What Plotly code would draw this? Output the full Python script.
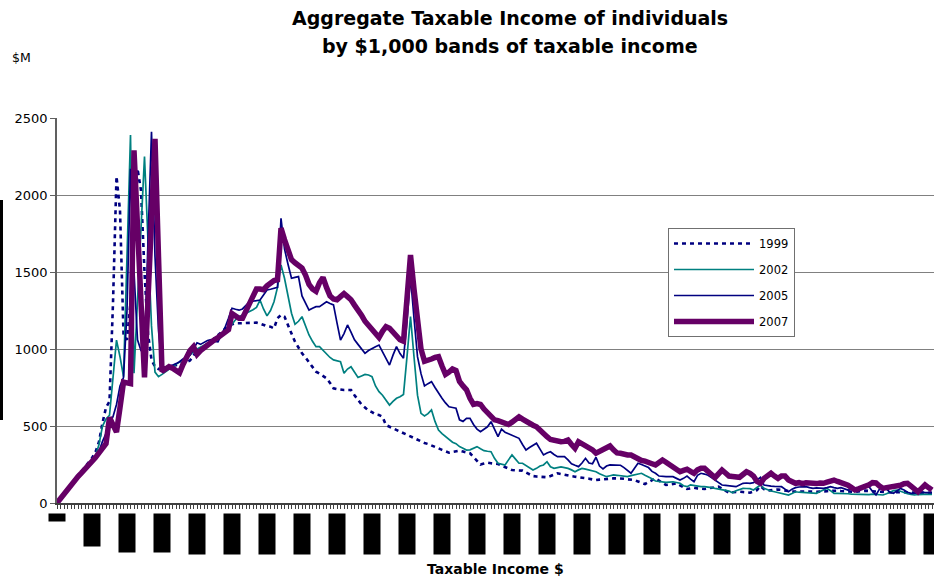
import plotly.graph_objects as go

# Income bands in $1,000 steps (0 .. 250 thousand)
bands = list(range(0, 251))

income_1999 = [
    0, 30, 62, 95, 125, 155, 180, 205, 232, 262,
    292, 330, 398, 520, 620, 660, 1300, 2120, 1900, 1100,
    1060, 1300, 1750, 2170, 2030, 1500, 1100, 930, 885, 870,
    875, 880, 885, 890, 895, 905, 910, 915, 925, 960,
    990, 1000, 1015, 1030, 1050, 1070, 1090, 1110, 1130, 1150,
    1160, 1167, 1167, 1167, 1168, 1169, 1170, 1171, 1165, 1155,
    1148, 1145, 1134, 1200, 1221, 1210, 1160, 1100, 1047, 1010,
    972, 945, 914, 885, 853, 840, 825, 810, 780, 745,
    740, 736, 734, 734, 734, 700, 669, 640, 620, 600,
    590, 575, 571, 560, 506, 495, 484, 474, 463, 452,
    442, 431, 420, 409, 400, 390, 383, 375, 365, 355,
    345, 336, 327, 332, 337, 340, 334, 328, 323, 298,
    272, 250, 256, 262, 258, 255, 253, 243, 233, 223,
    214, 212, 211, 210, 198, 187, 175, 172, 170, 168,
    167, 175, 185, 193, 188, 182, 178, 174, 171, 168,
    166, 164, 158, 153, 149, 152, 155, 158, 160, 160,
    160, 160, 157, 154, 151, 149, 140, 132, 123, 136,
    150, 160, 145, 130, 117, 120, 124, 128, 115, 102,
    91, 95, 99, 95, 92, 91, 95, 99, 103, 106,
    92, 78, 67, 70, 72, 73, 71, 69, 67, 75,
    84, 110, 90, 80, 84, 88, 88, 85, 80, 77,
    75, 73, 74, 75, 76, 75, 74, 73, 73, 73,
    76, 80, 82, 80, 78, 76, 74, 73, 72, 75,
    78, 80, 78, 76, 74, 72, 70, 70, 69, 68,
    70, 72, 70, 68, 66, 65, 66, 67, 68, 67,
    66,
]

income_2002 = [
    0, 30, 60, 92, 122, 152, 175, 198, 222, 246,
    272, 305, 380, 500, 545, 570, 800, 1058, 950, 820,
    1600, 2390, 842, 1300, 1800, 2249, 1700, 1150, 850, 820,
    835, 853, 870, 885, 900, 917, 933, 945, 960, 985,
    1000, 1010, 1020, 1035, 1050, 1060, 1075, 1090, 1110, 1130,
    1160, 1190, 1210, 1220, 1232, 1245, 1255, 1270, 1318, 1260,
    1215, 1250, 1307, 1400, 1545, 1459, 1350, 1232, 1160, 1180,
    1210, 1150, 1091, 1050, 1015, 1015, 990, 965, 945, 929,
    922, 917, 842, 870, 885, 850, 815, 825, 835, 831,
    820, 760, 723, 700, 670, 636, 660, 680, 690, 705,
    950, 1210, 950, 700, 582, 565, 580, 604, 530, 474,
    450, 431, 415, 395, 385, 366, 355, 344, 345, 355,
    366, 352, 340, 336, 333, 290, 258, 252, 247, 280,
    312, 285, 258, 258, 245, 230, 214, 225, 240, 247,
    268, 235, 225, 230, 235, 230, 225, 215, 203, 215,
    225, 220, 214, 210, 203, 190, 180, 171, 177, 182,
    180, 178, 175, 171, 178, 182, 188, 193, 180, 171,
    158, 143, 140, 137, 134, 136, 138, 133, 128, 112,
    106, 117, 112, 108, 106, 106, 104, 100, 95, 89,
    85, 82, 78, 67, 80, 90, 95, 94, 93, 84,
    100, 117, 95, 85, 78, 73, 68, 63, 58, 52,
    62, 73, 70, 68, 65, 63, 63, 63, 75, 85,
    95, 80, 63, 63, 63, 62, 60, 58, 57, 55,
    53, 52, 55, 57, 55, 52, 52, 60, 70, 80,
    84, 75, 65, 60, 55, 52, 55, 57, 58, 57,
    56,
]

income_2005 = [
    0, 30, 60, 92, 122, 152, 175, 198, 222, 246,
    270, 300, 335, 400, 450, 520, 560, 640, 760, 815,
    1250, 2170, 1500, 1060, 990, 985, 1700, 2410, 1600, 1120,
    890, 880, 890, 895, 905, 917, 935, 950, 960, 1000,
    1040, 1030, 1045, 1055, 1060, 1050, 1047, 1090, 1140, 1200,
    1265, 1258, 1252, 1260, 1285, 1307, 1310, 1314, 1318, 1350,
    1383, 1388, 1394, 1400, 1849, 1650, 1550, 1459, 1465, 1470,
    1345, 1295, 1253, 1265, 1275, 1275, 1290, 1307, 1295, 1286,
    1170, 1058, 1100, 1156, 1110, 1060, 1030, 1000, 972, 990,
    1005, 1015, 1026, 980, 940, 896, 960, 1015, 970, 940,
    1180, 1470, 1200, 950, 840, 760, 775, 788, 750, 712,
    680, 650, 625, 620, 615, 540, 530, 550, 550, 510,
    480, 463, 480, 495, 528, 480, 431, 480, 460, 450,
    440, 430, 420, 380, 344, 360, 375, 388, 350, 312,
    325, 333, 315, 301, 301, 301, 280, 255, 245, 236,
    260, 290, 260, 255, 297, 240, 221, 240, 247, 245,
    247, 245, 230, 210, 193, 225, 258, 250, 240, 230,
    205, 193, 175, 171, 171, 171, 171, 160, 149, 160,
    175, 155, 138, 180, 193, 188, 180, 165, 149, 135,
    117, 115, 112, 110, 106, 117, 128, 130, 128, 132,
    150, 167, 117, 112, 110, 108, 106, 106, 90, 73,
    90, 100, 104, 106, 106, 100, 95, 98, 95, 95,
    100, 106, 100, 95, 100, 90, 84, 88, 95, 100,
    104, 106, 106, 75, 52, 90, 106, 90, 70, 63,
    80, 95, 85, 70, 63, 63, 70, 72, 67, 68,
    67,
]

income_2007 = [
    0, 30, 60, 90, 120, 150, 172, 195, 218, 242,
    265, 295, 325, 355, 385, 555, 510, 460, 620, 785,
    780, 775, 2290, 1800, 1300, 815, 1320, 1850, 2365, 1600,
    855, 870, 885, 875, 860, 845, 900, 950, 990, 1015,
    965, 990, 1010, 1030, 1045, 1060, 1075, 1090, 1110, 1125,
    1230, 1215, 1200, 1200, 1250, 1310, 1360, 1390, 1390, 1385,
    1410, 1430, 1445, 1450, 1785, 1710, 1640, 1580, 1560, 1545,
    1525, 1480, 1420, 1390, 1375, 1430, 1465, 1400, 1345, 1325,
    1320, 1340, 1360, 1340, 1320, 1285, 1255, 1220, 1180, 1155,
    1135, 1100, 1075, 1115, 1145, 1135, 1110, 1085, 1060, 1050,
    1350, 1610, 1390, 1170, 1000, 920, 925, 935, 945, 950,
    890, 835, 850, 870, 860, 790, 760, 735, 680, 640,
    645, 640, 610, 590, 560, 540, 535, 528, 520, 510,
    525, 545, 560, 545, 528, 515, 505, 495, 470, 445,
    430, 412, 405, 400, 398, 400, 409, 380, 355, 398,
    385, 370, 366, 345, 323, 335, 344, 355, 370, 345,
    325, 323, 315, 312, 312, 300, 282, 276, 272, 268,
    255, 247, 260, 279, 265, 250, 236, 218, 203, 212,
    219, 205, 193, 215, 225, 225, 210, 185, 165, 190,
    214, 195, 175, 172, 168, 167, 185, 203, 193, 175,
    140, 128, 160, 180, 193, 175, 160, 175, 175, 150,
    135, 128, 132, 125, 131, 128, 133, 126, 130, 128,
    135, 142, 149, 140, 133, 128, 115, 100, 84, 92,
    100, 106, 118, 132, 130, 110, 95, 100, 104, 106,
    106, 115, 125, 128, 110, 85, 73, 95, 117, 100,
    84,
]

years = ["1999", "2002", "2005", "2007"]
series = [income_1999, income_2002, income_2005, income_2007]

# Axis label positions every $10,000
label_vals = list(range(0, 251, 10))
label_text = ["$0"] + [f"${v},000" for v in label_vals[1:]]

FONT = "DejaVu Sans, Verdana, Arial, sans-serif"

styles = {
    "1999": dict(color="#000080", width=2.6, dash="4px,4px"),
    "2002": dict(color="#008080", width=1.7),
    "2005": dict(color="#000080", width=1.7),
    "2007": dict(color="#660066", width=5.5),
}

fig = go.Figure()
for yr, vals in zip(years, series):
    fig.add_trace(go.Scatter(
        x=bands, y=vals, mode="lines", name=yr,
        line=styles[yr], legendgroup=yr,
    ))

# Plot-area geometry (pixels)
W, H = 934, 578
L, R, T, B = 57, 0, 118, 75
pw, ph = W - L - R, H - T - B

def px_x(p):
    return (p - L) / pw

def px_y(p):
    return (H - B - p) / ph

# Rotated band labels along the x axis (solid black boxes)
block_len = [None, 32, 38, 38] + [40] * (len(label_vals) - 4)
annotations = []
for v, t, ln in zip(label_vals, label_text, block_len):
    if ln is None:
        annotations.append(dict(
            x=v, xref="x", y=px_y(513), yref="paper", text=t,
            showarrow=False, xanchor="center", yanchor="top",
            width=16, height=7, bgcolor="black", borderpad=0,
            font=dict(family=FONT, size=5, color="black"),
        ))
    else:
        annotations.append(dict(
            x=v, xref="x", y=px_y(513), yref="paper", text=t,
            showarrow=False, xanchor="center", yanchor="top",
            textangle=-90, width=ln, height=16, bgcolor="black",
            borderpad=0, font=dict(family=FONT, size=6, color="black"),
        ))

annotations += [
    dict(text="<b>Aggregate Taxable Income of individuals</b>",
         x=px_x(510), y=px_y(18), xref="paper", yref="paper",
         showarrow=False, xanchor="center", yanchor="middle",
         font=dict(family=FONT, size=19, color="black")),
    dict(text="<b>by $1,000 bands of taxable income</b>",
         x=px_x(510), y=px_y(46), xref="paper", yref="paper",
         showarrow=False, xanchor="center", yanchor="middle",
         font=dict(family=FONT, size=19, color="black")),
    dict(text="$M", x=px_x(10), y=px_y(57), xref="paper", yref="paper",
         showarrow=False, xanchor="left", yanchor="middle",
         font=dict(family=FONT, size=12.5, color="black")),
    dict(text="<b>Taxable Income $</b>", x=px_x(495), y=px_y(569),
         xref="paper", yref="paper", showarrow=False,
         xanchor="center", yanchor="middle",
         font=dict(family=FONT, size=14, color="black")),
]

fig.update_layout(
    width=W, height=H,
    margin=dict(l=L, r=R, t=T, b=B, pad=0),
    paper_bgcolor="white", plot_bgcolor="white",
    font=dict(family=FONT, size=12, color="black"),
    showlegend=True,
    legend=dict(
        x=px_x(668), y=px_y(228), xanchor="left", yanchor="top",
        bgcolor="white", bordercolor="#707070", borderwidth=1,
        font=dict(family=FONT, size=11.5, color="black"),
        tracegroupgap=7, itemwidth=80,
    ),
    annotations=annotations,
    shapes=[dict(type="rect", xref="paper", yref="paper",
                 x0=px_x(0), x1=px_x(3), y0=px_y(420), y1=px_y(200),
                 fillcolor="black", line=dict(width=0))],
)

fig.update_xaxes(
    range=[0, pw / 3.5], showgrid=False, zeroline=False,
    showline=True, linecolor="#404040", linewidth=1.5,
    ticks="outside", tick0=0, dtick=1, ticklen=4, tickwidth=1,
    tickcolor="#404040", showticklabels=False,
)
fig.update_yaxes(
    range=[0, 2500], tick0=0, dtick=500, showgrid=True,
    gridcolor="#808080", gridwidth=1, zeroline=False,
    showline=True, linecolor="#606060", linewidth=1.5,
    ticks="outside", ticklen=5, tickcolor="#606060",
    tickfont=dict(family=FONT, size=13, color="black"),
)

fig.write_html("out.html")
